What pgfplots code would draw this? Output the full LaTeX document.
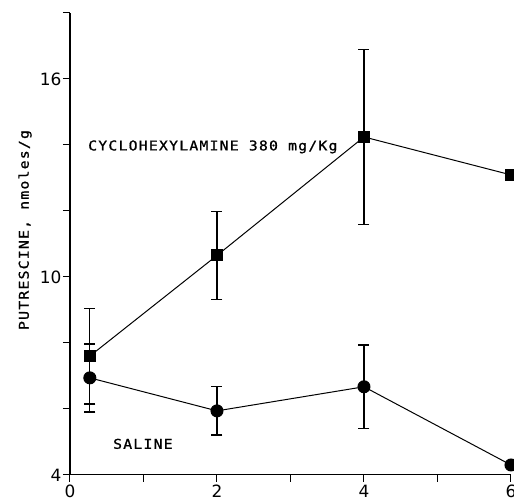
\documentclass[border=0pt]{standalone}
\usepackage{fontspec}
\usepackage{pgfplots}
\pgfplotsset{compat=1.18}
\setmainfont{DejaVu Sans}
\newfontfamily\plotfont[FakeStretch=1.1,LetterSpace=9,FakeBold=1]{DejaVu Sans Mono}
\newfontfamily\ticfont{DejaVu Sans}
\begin{document}
\begin{tikzpicture}
\begin{axis}[
  scale only axis,
  width=441bp, height=462bp,
  xmin=0, xmax=6, ymin=4, ymax=18,
  axis x line=bottom, axis y line=left,
  axis line style={-, line width=1.1pt},
  xtick={0,1,2,3,4,5,6},
  xticklabels={0,,2,,4,,6},
  ytick={4,6,8,10,12,14,16,18},
  yticklabels={4,,,10,,,16,},
  tick align=outside,
  major tick length=7bp,
  tick style={line width=1pt, black},
  /pgf/number format/assume math mode=true,
  ticklabel style={font=\fontsize{17}{17}\ticfont},
  yticklabel style={xshift=2bp},
  clip=false,
]
\coordinate (bl) at (axis cs:-0.952,3.273);
\coordinate (tr) at (axis cs:6.041,18.39);

\addplot[black, line width=1pt, mark=square*, mark size=5.5bp,
  mark options={solid},
  error bars/.cd, y dir=both, y explicit,
  error bar style={line width=1.2pt},
  error mark options={rotate=90, mark size=5.5bp, line width=1.3pt}]
  coordinates {
  (0.27,7.6) +- (0,1.45)
  (2,10.65) +- (0,1.33)
  (4,14.24) +- (0,2.65)
  (6,13.09) +- (0,0)
  };

\addplot[black, line width=1pt, mark=*, mark size=6bp,
  mark options={solid},
  error bars/.cd, y dir=both, y explicit,
  error bar style={line width=1.2pt},
  error mark options={rotate=90, mark size=5.5bp, line width=1.3pt}]
  coordinates {
  (0.27,6.94) +- (0,1.03)
  (2,5.94) +- (0,0.73)
  (4,6.67) +- (0,1.27)
  (6,4.3) +- (0,0)
  };

\node[anchor=west, inner sep=0pt, font=\fontsize{13.5}{14}\plotfont] at (axis cs:0.245,13.94) {CYCLOHEXYLAMINE 380 mg/Kg};
\node[anchor=west, inner sep=0pt, font=\fontsize{13.5}{14}\plotfont] at (axis cs:0.585,4.94) {SALINE};
\node[rotate=90, inner sep=0pt, font=\fontsize{13.5}{14}\plotfont] at (axis cs:-0.612,11.42) {PUTRESCINE, nmoles/g};
\end{axis}
\pgfresetboundingbox
\useasboundingbox (bl) rectangle (tr);
\end{tikzpicture}
\end{document}
